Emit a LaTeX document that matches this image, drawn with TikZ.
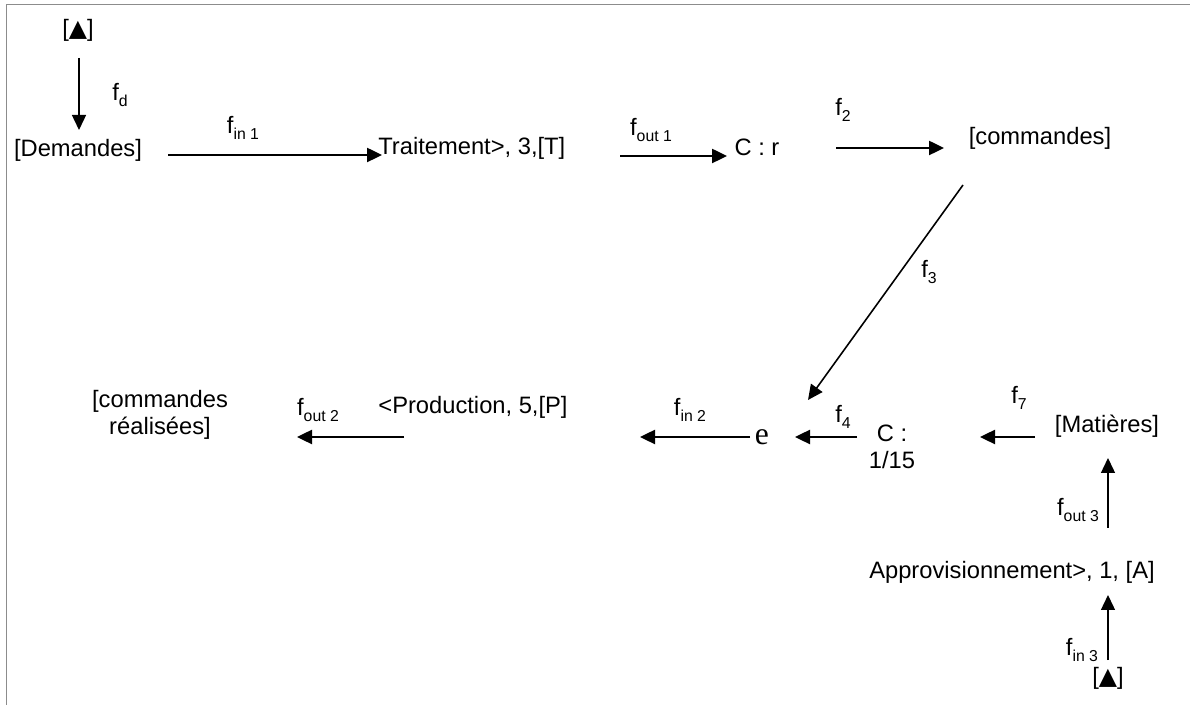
\documentclass[tikz,border=0pt]{standalone}
\usepackage{fontspec}
\setmainfont{Liberation Sans}
\newfontfamily\symfont{DejaVu Sans}
\newfontfamily\serfont{Liberation Serif}
\usepackage{tikz}
\usetikzlibrary{positioning,calc,arrows.meta}
\newcommand{\flab}[1]{f\raisebox{-0.45ex}{\fontsize{9}{10}\selectfont #1}}

\begin{document}
\begin{tikzpicture}[x=0.02cm, y=-0.02cm, auto,
                    every node/.style={font=\fontsize{13.5}{15.5}\selectfont, inner sep=0pt},
                    etat/.style={align=center},
                    cadre/.style={draw={rgb,255:red,140;green,140;blue,140}, line width=1.1pt},
                    fleche/.style={-{Triangle[length=3mm,width=2.8mm]}, line width=1.4pt},
                    fine/.style={-{Triangle[length=3mm,width=2.8mm]}, line width=0.8pt}]
\useasboundingbox (0,0) rectangle (1190,705);
\draw[cadre] (6.5,705) -- (6.5,4.5) -- (1190,4.5);

\node[etat] (t1) at (78,30) {[{\symfont\fontsize{13.5}{15}\selectfont ▲}]};
\node[etat] (dem) at (78,150) {[Demandes]};
\node[etat, anchor=west] (trt) at (378,148) {Traitement>, 3,[T]};
\node[etat] (cr) at (757,147) {C : r};
\node[etat] (cmd) at (1040,138) {[commandes]};
\node[etat] (e) at (762,437) {\serfont\fontsize{18}{20}\selectfont e};
\node[etat] (c15) at (892,447) {C :\\1/15};
\node[etat] (mat) at (1107,426) {[Matières]};
\node[etat] (app) at (1012,572) {Approvisionnement>, 1, [A]};
\node[etat] (t2) at (1108,678) {[{\symfont\fontsize{13.5}{15}\selectfont ▲}]};
\node[etat] (prod) at (473,407) {<Production, 5,[P]};
\node[etat] (cr2) at (160,415) {[commandes\\réalisées]};

\node (lfd) at (120,95) {\flab{d}};
\node (lfin1) at (243,128) {\flab{in 1}};
\node (lfout1) at (651,130) {\flab{out 1}};
\node (lf2) at (843,110) {\flab{2}};
\node (lf3) at (929,272) {\flab{3}};
\node (lfin2) at (690,410) {\flab{in 2}};
\node (lf4) at (843,417) {\flab{4}};
\node (lf7) at (1019,398) {\flab{7}};
\node (lfout3) at (1078,510) {\flab{out 3}};
\node (lfin3) at (1082,650) {\flab{in 3}};
\node (lfout2) at (318,410) {\flab{out 2}};

\path ($(t1)+(1,28)$) edge[fine] ($(dem)+(1,-20)$)
      ($(dem)+(90,5)$) edge[fleche] ($(trt.west)+(4,7)$)
      ($(trt.west)+(242,8)$) edge[fleche] ($(cr)+(-30,9)$)
      ($(cr)+(79,1)$) edge[fleche] ($(cmd)+(-96,10)$)
      ($(cmd)+(-77,47)$) edge[fine, line width=0.9pt] ($(e)+(46,-37)$)
      ($(e)+(-12,0)$) edge[fleche] ($(prod)+(167,30)$)
      ($(c15)+(-35,-10)$) edge[fleche] ($(e)+(33,0)$)
      ($(mat)+(-72,11)$) edge[fleche] ($(c15)+(88,-10)$)
      ($(app)+(96,-44)$) edge[fine] ($(mat)+(1,32)$)
      ($(t2)+(0,-18)$) edge[fine] ($(app)+(96,23)$)
      ($(prod)+(-69,30)$) edge[fleche] ($(cr2)+(137,22)$);
\end{tikzpicture}
\end{document}
